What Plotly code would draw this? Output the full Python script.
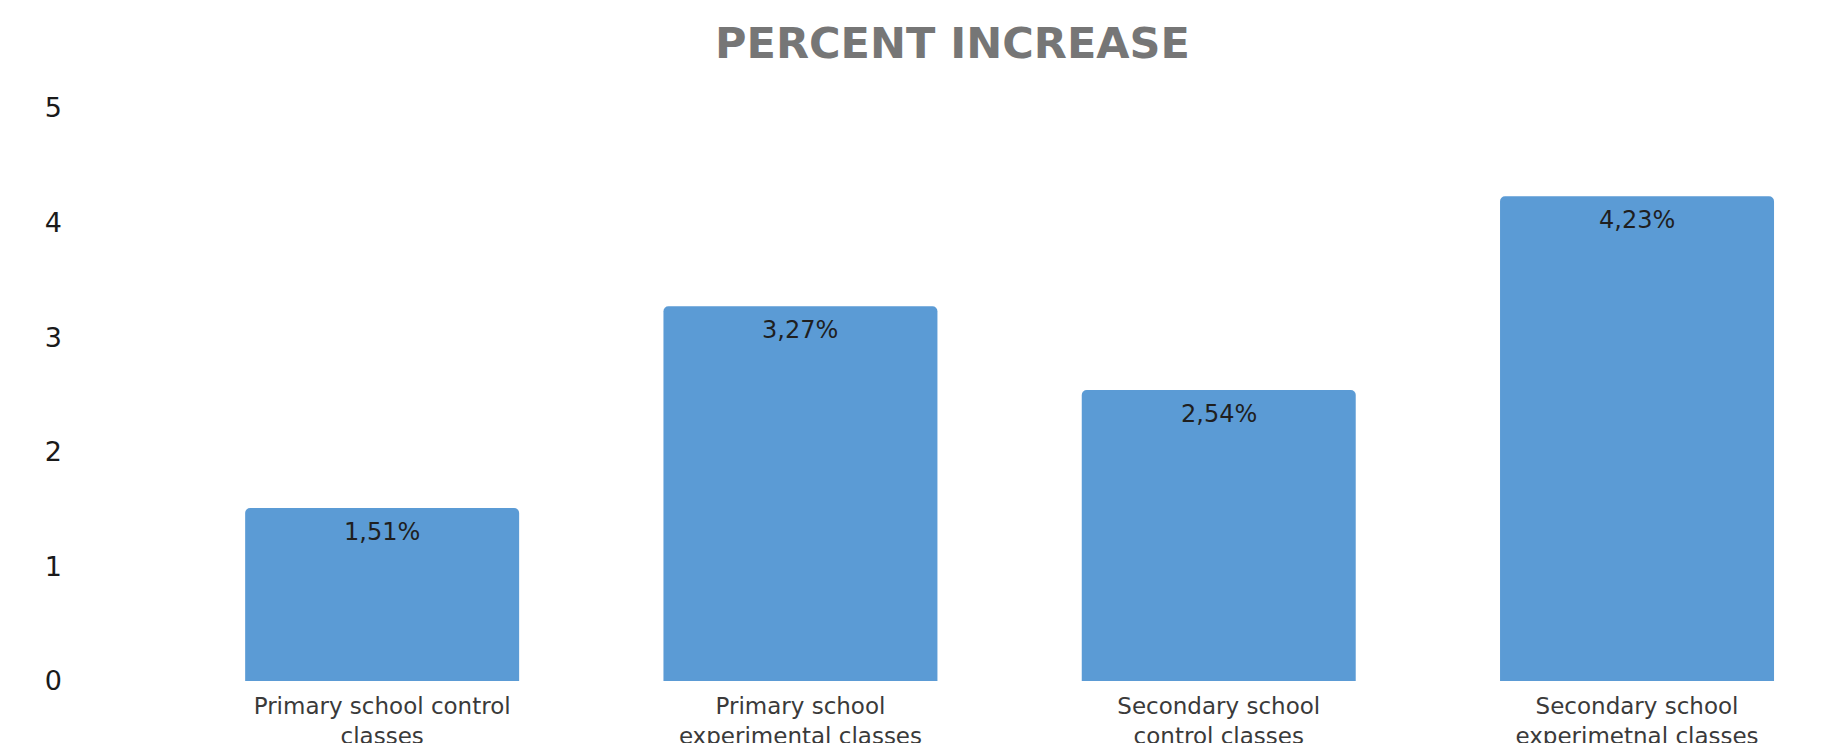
import plotly.graph_objects as go

categories = [
    "Primary school control<br>classes",
    "Primary school<br>experimental classes",
    "Secondary school<br>control classes",
    "Secondary school<br>experimetnal classes",
]
values = [1.51, 3.27, 2.54, 4.23]
value_labels = ["1,51%", "3,27%", "2,54%", "4,23%"]
y_ticks = [0, 1, 2, 3, 4, 5]

fig = go.Figure(
    go.Bar(
        x=categories,
        y=values,
        marker=dict(color="#5B9BD5", cornerradius=5, line=dict(width=0)),
        width=0.655,
        hoverinfo="skip",
    )
)

for cat, val, lab in zip(categories, values, value_labels):
    fig.add_annotation(
        x=cat, y=val, text=lab, showarrow=False,
        xanchor="center", yanchor="middle", yshift=-24,
        font=dict(family="DejaVu Sans", size=24, color="#1f1f1f"),
    )

fig.update_layout(
    width=1834,
    height=743,
    paper_bgcolor="white",
    plot_bgcolor="white",
    margin=dict(l=165, r=0, t=100, b=70),
    showlegend=False,
    title=dict(
        text="<b>PERCENT INCREASE</b>",
        font=dict(family="DejaVu Sans", size=43, color="#767676"),
        x=0.515,
        xref="container",
        xanchor="center",
        y=1 - 35 / 743,
        yref="container",
        yanchor="middle",
    ),
    xaxis=dict(
        range=[-0.5, 3.49],
        showgrid=False,
        showline=False,
        zeroline=False,
        ticks="",
        automargin=False,
        tickfont=dict(family="DejaVu Sans", size=23, color="#3a3a3a"),
        ticklabelstandoff=9,
    ),
    yaxis=dict(
        range=[0, 5],
        tickvals=y_ticks,
        showgrid=False,
        showline=False,
        zeroline=False,
        ticks="",
        automargin=False,
        tickfont=dict(family="DejaVu Sans", size=27, color="#1a1a1a"),
        ticklabelstandoff=110,
    ),
)

fig.write_html("out.html")
